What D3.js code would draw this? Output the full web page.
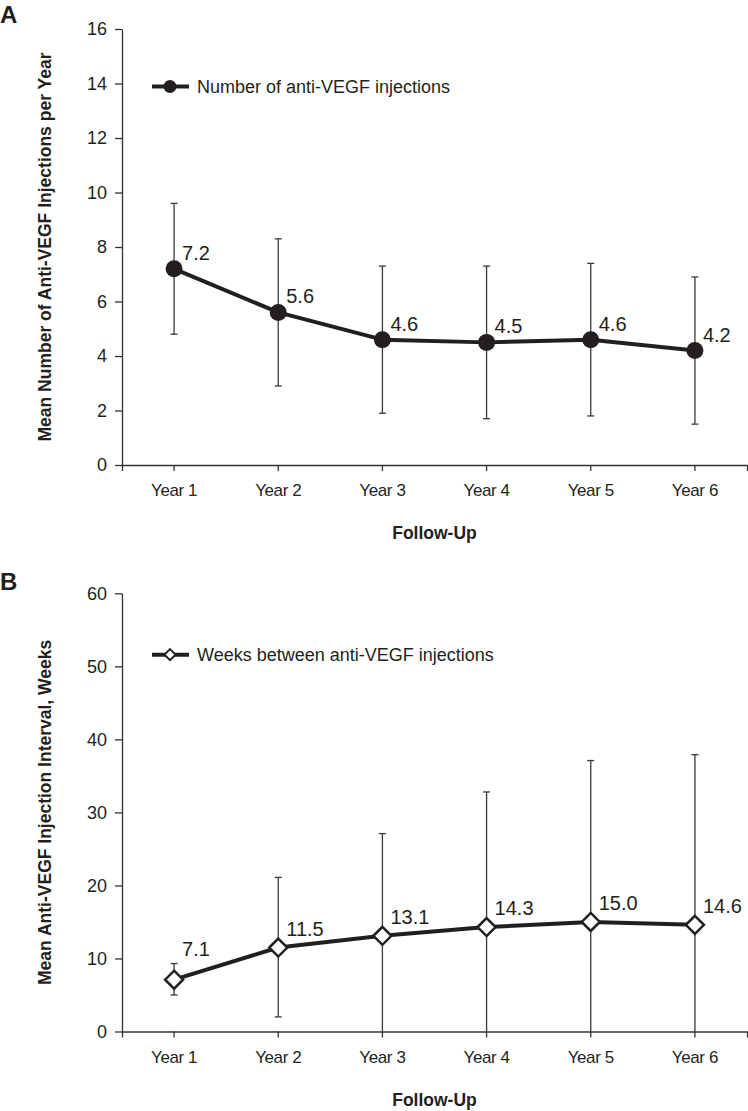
<!DOCTYPE html>
<html>
<head>
<meta charset="utf-8">
<script src="https://cdn.jsdelivr.net/npm/d3@7"></script>
<style>
  html, body { margin: 0; padding: 0; background: #fff; }
  svg { display: block; font-family: "Liberation Sans", Arial, sans-serif; }
</style>
</head>
<body>
<svg id="chart" width="748" height="1111"></svg>
<script>
// ---- data ----
const categories = ["Year 1", "Year 2", "Year 3", "Year 4", "Year 5", "Year 6"];
const injMean = [7.2, 5.6, 4.6, 4.5, 4.6, 4.2];
const injLow  = [4.8, 2.9, 1.9, 1.7, 1.8, 1.5];
const injHigh = [9.6, 8.3, 7.3, 7.3, 7.4, 6.9];
const intMean = [7.1, 11.5, 13.1, 14.3, 15.0, 14.6];
const intLow  = [5.0, 2.0, 0, 0, 0, 0];
const intHigh = [9.3, 21.1, 27.1, 32.8, 37.1, 37.9];
const yTicksA = [0, 2, 4, 6, 8, 10, 12, 14, 16];
const yTicksB = [0, 10, 20, 30, 40, 50, 60];
const labelFmt = d3.format(".1f");

const ink = "#231f20";
const axisCol = "#333";
const svg = d3.select("#chart");

const x = d3.scaleBand().domain(categories).range([122, 747]).padding(0);

function panel(opts) {
  const g = svg.append("g");
  const y = d3.scaleLinear().domain([0, opts.max]).range([opts.y0, opts.y1]);

  // y axis
  const ya = g.append("g").attr("transform", "translate(122,0)")
    .call(d3.axisLeft(y).tickValues(opts.ticks).tickSize(7).tickSizeOuter(0).tickPadding(8));
  ya.selectAll("path, line").attr("stroke", axisCol).attr("stroke-width", 1.3);
  ya.selectAll("text").attr("font-size", 18).attr("fill", ink)
    .attr("font-family", "'Liberation Sans', Arial, sans-serif");

  // x axis
  const xa = g.append("g").attr("transform", `translate(0,${opts.y0})`)
    .call(d3.axisBottom(x).tickSize(6).tickSizeOuter(6));
  xa.selectAll("path, line").attr("stroke", axisCol).attr("stroke-width", 1.3);
  xa.selectAll("text").attr("font-size", 17).attr("fill", ink)
    .attr("letter-spacing", -0.4)
    .attr("y", 19).attr("dy", "0.71em")
    .attr("font-family", "'Liberation Sans', Arial, sans-serif");

  // axis titles
  g.append("text")
    .attr("transform", `translate(51,${(opts.y0 + opts.y1) / 2}) rotate(-90)`)
    .attr("text-anchor", "middle").attr("font-weight", "bold").attr("font-size", 17.5)
    .attr("fill", ink).text(opts.yTitle);
  g.append("text")
    .attr("x", (122 + 747) / 2).attr("y", opts.y0 + 74)
    .attr("text-anchor", "middle").attr("font-weight", "bold").attr("font-size", 17.5)
    .attr("fill", ink).text("Follow-Up");

  // panel letter
  g.append("text").attr("x", 0).attr("y", opts.letterY)
    .attr("font-weight", "bold").attr("font-size", 24).attr("fill", ink).text(opts.letter);

  const data = categories.map((c, i) => ({
    c, v: opts.mean[i], lo: opts.low[i], hi: opts.high[i]
  }));
  const cx = d => x(d.c) + x.bandwidth() / 2;

  // error bars
  const eb = g.append("g").attr("stroke", "#3a3a3a").attr("stroke-width", 1.3);
  data.forEach(d => {
    eb.append("line").attr("x1", cx(d)).attr("x2", cx(d)).attr("y1", y(d.lo)).attr("y2", y(d.hi));
    eb.append("line").attr("x1", cx(d) - 3.5).attr("x2", cx(d) + 3.5).attr("y1", y(d.hi)).attr("y2", y(d.hi));
    if (d.lo > 0)
      eb.append("line").attr("x1", cx(d) - 3.5).attr("x2", cx(d) + 3.5).attr("y1", y(d.lo)).attr("y2", y(d.lo));
  });

  // line
  g.append("path").datum(data)
    .attr("d", d3.line().x(cx).y(d => y(d.v)))
    .attr("fill", "none").attr("stroke", ink).attr("stroke-width", 4).attr("stroke-linejoin", "round");

  // markers
  if (opts.marker === "circle") {
    g.selectAll(".m").data(data).join("circle")
      .attr("cx", cx).attr("cy", d => y(d.v)).attr("r", 8.5).attr("fill", ink);
  } else {
    g.selectAll(".m").data(data).join("path")
      .attr("transform", d => `translate(${cx(d)},${y(d.v)})`)
      .attr("d", "M0,-9L9,0L0,9L-9,0Z")
      .attr("fill", "#fff").attr("stroke", ink).attr("stroke-width", 2.5);
  }

  // value labels
  g.selectAll(".lbl").data(data).join("text")
    .attr("x", d => cx(d) + 8)
    .attr("y", d => (y(d.v) - y(d.hi) < 25 ? y(d.hi) - 8 : y(d.v) - opts.labelOff))
    .attr("font-size", 20).attr("fill", ink)
    .text(d => labelFmt(d.v));

  // legend
  const ly = y(opts.legendAt) + opts.legendShift;
  g.append("line").attr("x1", 152).attr("x2", 189).attr("y1", ly).attr("y2", ly)
    .attr("stroke", ink).attr("stroke-width", 4);
  if (opts.marker === "circle") {
    g.append("circle").attr("cx", 170).attr("cy", ly).attr("r", 6.5).attr("fill", ink);
  } else {
    g.append("path").attr("transform", `translate(170,${ly})`)
      .attr("d", "M0,-5.5L5.5,0L0,5.5L-5.5,0Z")
      .attr("fill", "#fff").attr("stroke", ink).attr("stroke-width", 2);
  }
  g.append("text").attr("x", 197).attr("y", ly).attr("dy", "0.35em")
    .attr("font-size", 18).attr("fill", ink).text(opts.legend);
}

panel({
  y0: 465, y1: 29, max: 16, ticks: yTicksA,
  mean: injMean, low: injLow, high: injHigh,
  marker: "circle", labelOff: 9, letter: "A", letterY: 23,
  yTitle: "Mean Number of Anti-VEGF Injections per Year",
  legend: "Number of anti-VEGF injections", legendAt: 14, legendShift: 3
});

panel({
  y0: 1031.5, y1: 593.3, max: 60, ticks: yTicksB,
  mean: intMean, low: intLow, high: intHigh,
  marker: "diamond", labelOff: 12, letter: "B", letterY: 590,
  yTitle: "Mean Anti-VEGF Injection Interval, Weeks",
  legend: "Weeks between anti-VEGF injections", legendAt: 50, legendShift: -11.7
});
</script>
</body>
</html>
